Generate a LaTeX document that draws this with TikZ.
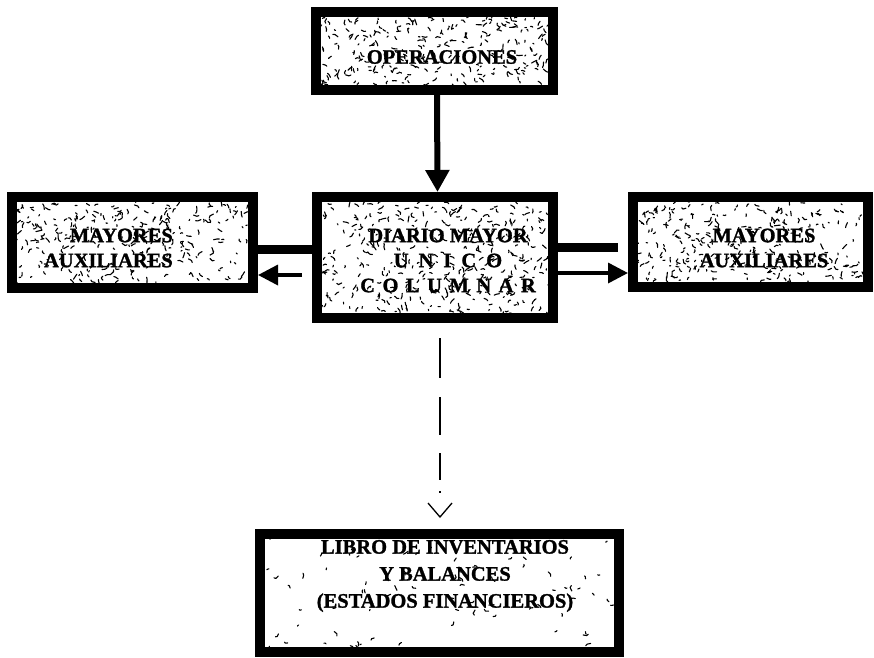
\documentclass[tikz,border=0pt]{standalone}
\usepackage{fontspec}
\setmainfont{Liberation Serif}[BoldFeatures={FakeBold=1.3}]
\usetikzlibrary{arrows.meta}

% scattered short strokes that give the boxes their newsprint texture
\newcommand{\speckles}[5]{%
  \foreach \k in {1,...,#5}{%
    \pgfmathsetmacro{\sx}{#1+rnd*(#3-#1)}%
    \pgfmathsetmacro{\sy}{#2+rnd*(#4-#2)}%
    \pgfmathsetmacro{\sa}{rnd*360}%
    \pgfmathsetmacro{\sb}{\sa+rnd*120-60}%
    \pgfmathsetmacro{\sl}{0.8+rnd*3}%
    \draw[speck] (\sx,\sy) -- ++(\sa:\sl) -- ++(\sb:\sl*0.6);
  }}

\begin{document}
\begin{tikzpicture}[x=1pt,y=-1pt,
  box/.style={draw=black, line width=10pt, fill=white, inner sep=0pt},
  lbl/.style={inner sep=0pt, align=center, font=\bfseries\fontsize{20.5}{25}\selectfont},
  speck/.style={line width=1.1pt, line cap=round, line join=round, black},
  bar/.style={line width=9pt},
  flow/.style={line width=3.5pt, -{Triangle[length=20pt,width=20pt]}},
]
\useasboundingbox (0,0) rectangle (874,657);
\pgfmathsetseed{1907}

% boxes
\node[box, minimum width=237pt, minimum height=78pt]  (ops)    at (434.5,51)   {};
\node[box, minimum width=241pt, minimum height=91pt]  (auxl)   at (132.5,242.5) {};
\node[box, minimum width=236pt, minimum height=121pt] (diario) at (435,257.5)  {};
\node[box, minimum width=235pt, minimum height=90pt]  (auxr)   at (750.5,242)  {};
\node[box, minimum width=359pt, minimum height=118pt] (libro)  at (439.5,593)  {};

% textures
\speckles{321}{17}{548}{85}{250}
\speckles{17}{202}{248}{283}{280}
\speckles{322}{202}{548}{313}{370}
\speckles{638}{202}{863}{282}{280}
\speckles{265}{539}{614}{647}{80}

% labels
\node[lbl] (opst) at (442,57) {OPERACIONES};
\node[lbl, align=right, anchor=east] (auxlt) at (173,248) {MAYORES\\AUXILIARES};
\node[lbl] (diariot) at (448,260.5)
  {DIARIO{\spaceskip=14pt\relax} MAYOR\\
   {\spaceskip=10pt\relax U N I C O}\\
   {\spaceskip=7.5pt\relax C O L U M N A R}};
\node[lbl] (auxrt) at (764,248) {MAYORES\\AUXILIARES};
\node[lbl, font=\bfseries\fontsize{20.5}{27}\selectfont] (librot) at (445,576)
  {LIBRO DE INVENTARIOS\\Y BALANCES\\(ESTADOS FINANCIEROS)};

% connectors
\coordinate (lbar) at (0,249);
\coordinate (rbar) at (0,247.5);
\coordinate (rbarend) at (618,0);
\coordinate (lflowstart) at (302,275);
\coordinate (rflow) at (0,273);

\draw[line width=6pt, -{Triangle[length=22pt,width=23pt]}]
  ([xshift=2.5pt]ops.south) -- ([xshift=2.5pt]diario.north);

\draw[bar] (diario.west |- lbar) -- (auxl.east |- lbar);
\draw[flow] (lflowstart) -- (auxl.east |- lflowstart);

\draw[bar] (diario.east |- rbar) -- (rbarend |- rbar);
\draw[flow] (diario.east |- rflow) -- (auxr.west |- rflow);

\draw[line width=1.3pt,
      dash pattern=on 40pt off 19pt on 38pt off 18pt on 27pt off 11pt on 2pt off 30pt,
      shorten <=15pt, shorten >=11pt,
      -{Straight Barb[length=14pt,width=24pt,line width=1.3pt]}]
  ([xshift=5pt]diario.south) -- ([xshift=0.5pt]libro.north);
\end{tikzpicture}
\end{document}
